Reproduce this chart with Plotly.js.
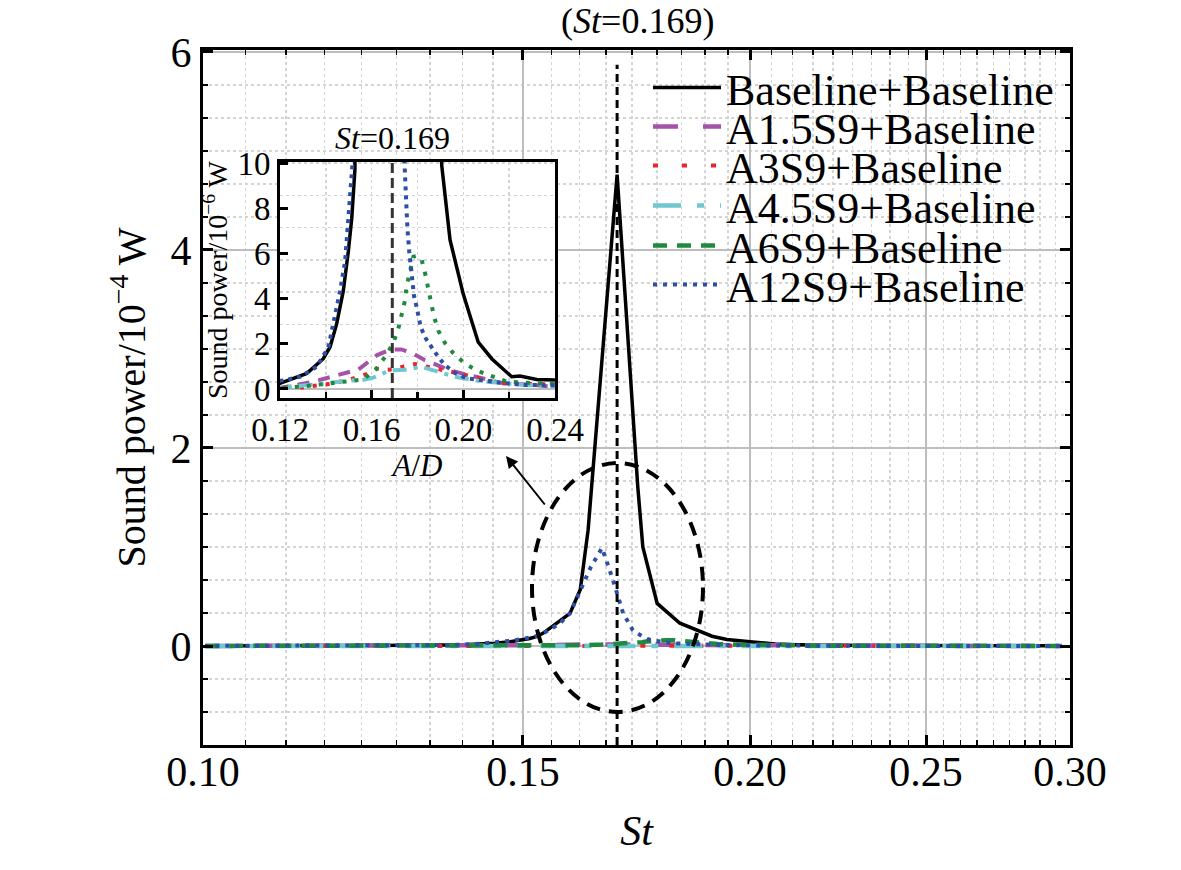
<!DOCTYPE html>
<html>
<head>
<meta charset="utf-8">
<script src="https://cdn.plot.ly/plotly-3.0.1.min.js"></script>
<style>html,body{margin:0;padding:0;background:#fff;}#chart{width:1181px;height:870px;}</style>
</head>
<body>
<div id="chart"></div>
<script>
// ---- data (sound power in units of 1e-6 W) ----
const peakSt = 0.169;
const seriesNames = ['Baseline+Baseline','A1.5S9+Baseline','A3S9+Baseline','A4.5S9+Baseline','A6S9+Baseline','A12S9+Baseline'];

const stBaseline = [0.1003,0.110,0.120,0.1317,0.1389,0.1418,0.1447,0.1476,0.1498,0.1513,0.1527,0.1539,0.1592,0.1613,0.1629,0.1637,0.1690,0.1735,0.1746,0.1778,0.1830,0.1906,0.1942,0.2000,0.2065,0.2124,0.2211,0.2247,0.2320,0.2400,0.260,0.280,0.297];
const pBaseline  = [0.10,0.15,0.25,0.69,1.34,1.85,2.87,4.33,6.08,7.54,9.73,13,33,57,117,165,476,160,100,43,23,9.88,6.6,4.19,2.07,1.34,0.54,0.57,0.42,0.39,0.30,0.25,0.20];

const stA15 = [0.1003,0.1214,0.1345,0.1491,0.1542,0.1622,0.1680,0.1730,0.1782,0.1833,0.1942,0.1993,0.2131,0.2160,0.2305,0.2393,0.260,0.297];
const pA15  = [0.05,0.07,0.32,0.71,0.86,1.49,1.74,1.75,1.56,1.27,0.83,0.69,0.32,0.28,0.18,0.10,0.10,0.08];

const stA3 = [0.1003,0.120,0.1236,0.1295,0.1400,0.1498,0.1593,0.1622,0.1660,0.1694,0.1740,0.1789,0.1891,0.1993,0.2160,0.2305,0.260,0.297];
const pA3  = [0.05,0.10,0.10,0.07,0.20,0.39,0.71,0.90,0.85,0.86,1.00,1.10,0.90,0.66,0.25,0.18,0.12,0.10];

const stA45 = [0.1003,0.1214,0.1404,0.1491,0.1560,0.1607,0.1680,0.1745,0.1818,0.1884,0.1960,0.2070,0.2174,0.2269,0.2400,0.297];
const pA45  = [0.05,0.07,0.25,0.36,0.40,0.50,0.83,0.85,0.98,0.76,0.55,0.35,0.25,0.18,0.12,0.10];

const stA6 = [0.1003,0.1244,0.1316,0.1447,0.1564,0.1619,0.1658,0.1694,0.1716,0.1745,0.1753,0.1767,0.1782,0.1800,0.1818,0.1833,0.1847,0.1858,0.1872,0.1891,0.1920,0.1956,0.2007,0.2065,0.2128,0.2190,0.2320,0.260,0.297];
const pA6  = [0.05,0.07,0.13,0.28,0.42,0.88,1.41,2.03,2.66,3.90,4.55,5.21,5.86,5.90,5.72,5.13,4.48,3.82,3.21,2.58,2.03,1.59,1.12,0.79,0.57,0.32,0.25,0.15,0.10];

const stA12 = [0.1003,0.1222,0.1287,0.1360,0.1411,0.1440,0.1462,0.1484,0.1498,0.1513,0.1524,0.1539,0.1570,0.1592,0.1613,0.1635,0.1658,0.1681,0.1703,0.1724,0.1745,0.1750,0.1756,0.1764,0.1775,0.1785,0.1797,0.1814,0.1837,0.1862,0.1891,0.1920,0.1964,0.2015,0.2065,0.2160,0.2262,0.2364,0.260,0.297];
const pA12  = [0.10,0.39,0.54,0.98,1.85,3.16,4.33,5.65,7.10,8.71,9.73,13,22,33,57,80,99,67,33,16,9.58,8.13,7.10,6.08,5.13,4.11,3.60,2.73,2.22,1.82,1.41,1.05,0.71,0.47,0.39,0.28,0.18,0.13,0.10,0.08];

const xTickVals = [0.10,0.15,0.20,0.25,0.30];
const xTickText = ['0.10','0.15','0.20','0.25','0.30'];
const yTickVals = [0,2,4,6];
const yTickText = ['0','2','4','6'];
const insetXTickVals = [0.12,0.16,0.20,0.24];
const insetXTickText = ['0.12','0.16','0.20','0.24'];
const insetYTickVals = [0,2,4,6,8,10];
const insetYTickText = ['0','2','4','6','8','10'];

// ---- geometry helpers (pixel -> paper) ----
const W = 1181, H = 870;
const M = {l:203, r:111, t:50, b:125};
const PW = W - M.l - M.r, PH = H - M.t - M.b;
const px = v => (v - M.l) / PW;
const py = v => (H - M.b - v) / PH;

const FONT = 'Liberation Serif, Times New Roman, serif';

const styles = [
  {color:'#000000', dash:'solid', width:3.5},
  {color:'#a552a8', dash:'25px,25px', width:4.5},
  {color:'#e8262c', dash:'5px,24px', width:4},
  {color:'#6fc7d1', dash:'28px,16px,7px,16px', width:4.5},
  {color:'#1f8a3f', dash:'14px,10px', width:4.5},
  {color:'#2d4fa6', dash:'4px,6px', width:4}
];
const insetDash = ['solid','12px,9px','4px,9px','14px,7px,4px,7px','4px,8px','4px,5px'];
const stAll = [stBaseline, stA15, stA3, stA45, stA6, stA12];
const pAll  = [pBaseline, pA15, pA3, pA45, pA6, pA12];

const traces = [];
const legendIds = ['legend','legend2','legend3','legend4','legend5','legend6'];
for (let i = 0; i < 6; i++) {
  traces.push({
    x: stAll[i], y: pAll[i].map(v => v / 100), xaxis:'x', yaxis:'y',
    mode:'lines', name: seriesNames[i], legend: legendIds[i],
    line:{color:styles[i].color, dash:styles[i].dash, width:styles[i].width}
  });
}
// reference line St = 0.169 in main plot
traces.push({x:[peakSt, peakSt], y:[-1, 5.87], xaxis:'x', yaxis:'y', mode:'lines', showlegend:false,
  line:{color:'#000', dash:'8px,5px', width:3}, hoverinfo:'skip'});
// inset traces
for (let i = 0; i < 6; i++) {
  traces.push({
    x: stAll[i], y: pAll[i], xaxis:'x2', yaxis:'y2', mode:'lines', showlegend:false,
    line:{color:styles[i].color, dash:insetDash[i], width: i === 0 ? 3.5 : 4}
  });
}
traces.push({x:[peakSt, peakSt], y:[-0.4, 10.05], xaxis:'x2', yaxis:'y2', mode:'lines', showlegend:false,
  line:{color:'#333', dash:'10px,5px', width:3}, hoverinfo:'skip'});

const rowY = [92, 131, 170, 210, 250, 289];
const layout = {
  width: W, height: H,
  margin: M,
  paper_bgcolor:'#fff', plot_bgcolor:'#fff',
  font:{family:FONT, size:40, color:'#000'},
  title:{text:'(<i>St</i>=0.169)', x:0.54, xanchor:'center', y:1 - 20/H, yanchor:'middle', font:{family:FONT, size:36, color:'#000'}},
  xaxis:{
    type:'log', range:[Math.log10(0.1), Math.log10(0.3)],
    tickmode:'array', tickvals:xTickVals, ticktext:xTickText,
    ticks:'inside', ticklen:10, tickwidth:3, tickcolor:'#000',
    showline:true, linewidth:3, linecolor:'#000', mirror:'ticks',
    showgrid:true, gridcolor:'#bdbdbd', gridwidth:2,
    zeroline:false, ticklabelstandoff:-12,
    tickfont:{family:FONT, size:42, color:'#000'},
    title:{text:'<i>St</i>', font:{family:FONT, size:42, color:'#000'}, standoff:22},
    minor:{dtick:'L' + (0.05/9), tick0:0.1, showgrid:true, gridcolor:'#d4d4d4', griddash:'dot', gridwidth:1.5,
      ticks:'inside', ticklen:5, tickwidth:1.5, tickcolor:'#000'}
  },
  yaxis:{
    range:[-1, 6.02],
    tickmode:'array', tickvals:yTickVals, ticktext:yTickText,
    ticks:'inside', ticklen:10, tickwidth:3, tickcolor:'#000',
    showline:true, linewidth:3, linecolor:'#000', mirror:'ticks',
    showgrid:true, gridcolor:'#bdbdbd', gridwidth:2,
    zeroline:false,
    tickfont:{family:FONT, size:42, color:'#000'},
    title:{text:'Sound power/10<sup>−4</sup> W', font:{family:FONT, size:40, color:'#000'}, standoff:13},
    minor:{dtick:2/6, tick0:0, showgrid:true, gridcolor:'#d4d4d4', griddash:'dot', gridwidth:1.5,
      ticks:'inside', ticklen:5, tickwidth:1.5, tickcolor:'#000'}
  },
  xaxis2:{
    domain:[px(280), px(555)], anchor:'y2',
    range:[0.12, 0.24],
    tickmode:'array', tickvals:insetXTickVals, ticktext:insetXTickText,
    ticks:'inside', ticklen:8, tickwidth:3, tickcolor:'#000',
    showline:true, linewidth:3, linecolor:'#000', mirror:true,
    showgrid:false, zeroline:false,
    tickfont:{family:FONT, size:33, color:'#000'},
    title:{text:'<i>A</i>/<i>D</i>', font:{family:FONT, size:31, color:'#000'}, standoff:4},
    minor:{dtick:0.02, tick0:0.12, showgrid:true, gridcolor:'#d4d4d4', griddash:'dot', gridwidth:1.5,
      ticks:'inside', ticklen:6, tickwidth:2.5, tickcolor:'#000'}
  },
  yaxis2:{
    domain:[py(398), py(162)], anchor:'x2',
    range:[-0.4, 10.05],
    tickmode:'array', tickvals:insetYTickVals, ticktext:insetYTickText,
    ticks:'inside', ticklen:8, tickwidth:3, tickcolor:'#000',
    showline:true, linewidth:3, linecolor:'#000', mirror:true,
    showgrid:false, zeroline:true, zerolinecolor:'#bdbdbd', zerolinewidth:2,
    tickfont:{family:FONT, size:33, color:'#000'},
    title:{text:'Sound power/10<sup>−6</sup> W', font:{family:FONT, size:28, color:'#000'}, standoff:2},
    minor:{dtick:10/7, tick0:0, showgrid:true, gridcolor:'#d4d4d4', griddash:'dot', gridwidth:1.5}
  },
  shapes:[
    {type:'rect', xref:'paper', yref:'paper', x0:px(645), x1:px(1066), y0:py(308), y1:py(68),
      fillcolor:'#fff', line:{width:0}, layer:'between'},
    {type:'rect', xref:'paper', yref:'paper', x0:px(205), x1:px(565), y0:py(405), y1:py(115),
      fillcolor:'#fff', line:{width:0}, layer:'between'},
    {type:'rect', xref:'paper', yref:'paper', x0:px(205), x1:px(640), y0:py(490), y1:py(405),
      fillcolor:'#fff', line:{width:0}, layer:'between'},
    {type:'circle', xref:'paper', yref:'paper', x0:px(532), x1:px(703), y0:py(712), y1:py(463),
      line:{color:'#000', width:4, dash:'14px,9px'}, layer:'above'}
  ],
  annotations:[
    {xref:'paper', yref:'paper', x:px(392), y:py(138), text:'<i>St</i>=0.169', showarrow:false,
      font:{family:FONT, size:32, color:'#000'}, xanchor:'center', yanchor:'middle'},
    {xref:'paper', yref:'paper', x:px(506), y:py(456), ax:40, ay:50, axref:'pixel', ayref:'pixel',
      text:'', showarrow:true, arrowhead:2, arrowsize:1.2, arrowwidth:2, arrowcolor:'#000'}
  ],
  showlegend:true
};
for (let i = 0; i < 6; i++) {
  layout[legendIds[i]] = {
    x: px(648), xanchor:'left', y: py(rowY[i] - 4), yanchor:'middle',
    bgcolor:'rgba(0,0,0,0)', borderwidth:0, itemwidth:68,
    font:{family:FONT, size:44, color:'#000'}
  };
}
Plotly.newPlot('chart', traces, layout, {staticPlot:true, displayModeBar:false});
</script>
</body>
</html>
